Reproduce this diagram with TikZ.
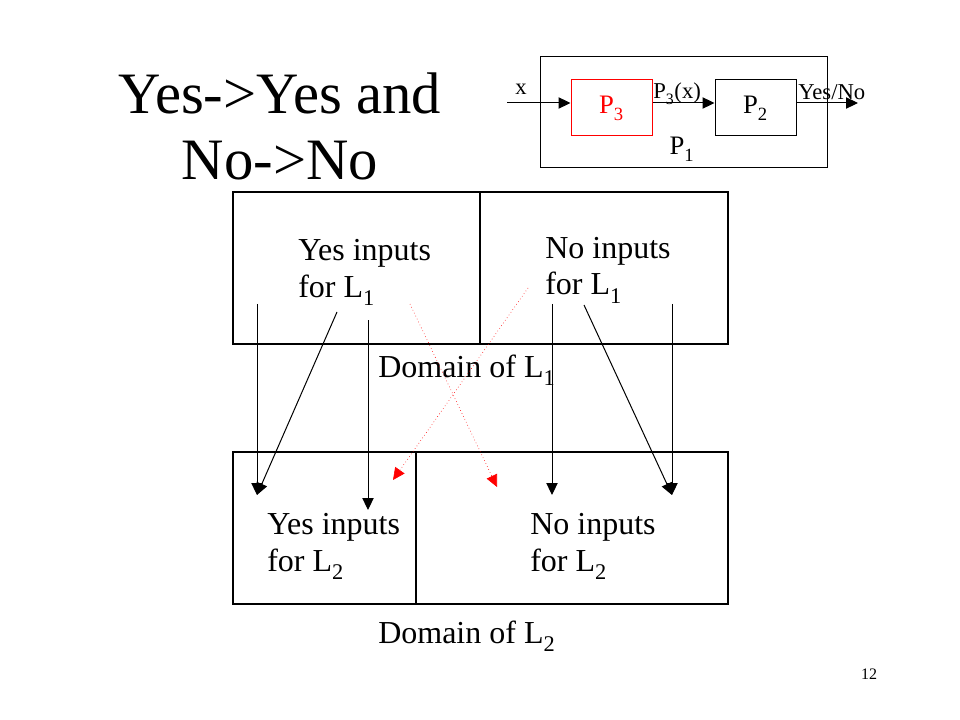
\documentclass[tikz,border=0pt]{standalone}
\usepackage{fontspec}
\setmainfont{Liberation Serif}
\usetikzlibrary{arrows.meta}
\newcommand\lsub[1]{\raisebox{-0.1em}{\textsubscript{#1}}}

\begin{document}
\begin{tikzpicture}[x=0.75pt,y=-0.75pt,
		every node/.style={inner sep=0pt},
		box/.style={line width=0.9pt},
		arr/.style={line width=0.75pt,-{Triangle[length=9pt,width=8.5pt]}},
		redarr/.style={red,line width=0.45pt,dotted,-{Triangle[length=9pt,width=8.5pt]}},
		lbl/.style={anchor=base west,align=left,font=\fontsize{24}{27.5}\selectfont},
		small/.style={font=\fontsize{17}{20}\selectfont},
		proc/.style={draw,line width=0.75pt,minimum width=60.75pt,minimum height=42pt,font=\fontsize{20}{24}\selectfont}]
		%%%%% START %%%%%
		\useasboundingbox (0,0) rectangle (960,720);
		
		% base of a two-line node = base of its last line
		\node[align=center,anchor=base,font=\fontsize{44}{50}\selectfont] (title) at (280,180) {Yes->Yes and\\No->No};
		
		% P1 = P2 after P3
		\node[draw,line width=0.75pt,minimum width=215.25pt,minimum height=83.25pt] (p1) at (683.5,112.5) {};
		\node[proc,draw=red,text=red] (p3) at (611.5,108) {P\lsub{3}};
		\node[proc] (p2) at (755.5,108) {P\lsub{2}};
		\node[anchor=base,font=\fontsize{20}{24}\selectfont] (p1lab) at (682,155) {P\lsub{1}};
		\coordinate (xin) at (507,103);
		\coordinate (yn) at (858,103);
		\draw[arr] (xin) -- (xin -| p3.west);
		\draw[arr] (p3.east |- xin) -- (p2.west |- xin);
		\draw[arr] (p2.east |- xin) -- (yn);
		\node[small,anchor=base] (xlab) at (521,95) {x};
		\node[small,anchor=base west] (p3x) at (653,99) {P\lsub{3}(x)};
		\node[small,anchor=base west] (ynlab) at (798,100) {Yes/No};
		
		% the two domains
		\draw[box] (233,192) rectangle (728,344);
		\draw[box] (480,192) -- (480,344);
		\draw[box] (233,452) rectangle (728,604);
		\draw[box] (416,452) -- (416,604);
		
		\node[lbl] (yes1) at (298,297) {Yes inputs\\for L\lsub{1}};
		\node[lbl] (no1) at (545,295) {No inputs\\for L\lsub{1}};
		\node[lbl] (dom1) at (378,377) {Domain of L\lsub{1}};
		\node[lbl] (yes2) at (267,571) {Yes inputs\\for L\lsub{2}};
		\node[lbl] (no2) at (530,571) {No inputs\\for L\lsub{2}};
		\node[lbl] (dom2) at (378,643) {Domain of L\lsub{2}};
		
		% maps
		\coordinate (ys1) at (257,304); \coordinate (ys2) at (337,312); \coordinate (ys3) at (368,320);
		\coordinate (ns1) at (552,304); \coordinate (ns2) at (584,305); \coordinate (ns3) at (672,304);
		\coordinate (ye1) at (257,495); \coordinate (ye2) at (368,510);
		\coordinate (ne1) at (552,495); \coordinate (ne2) at (672,495);
		\coordinate (rs1) at (410,304); \coordinate (re1) at (497,487);
		\coordinate (rs2) at (528,288); \coordinate (re2) at (393,480);
		\draw[arr] (ys1) -- (ye1);
		\draw[arr] (ys2) -- (ye1);
		\draw[arr] (ys3) -- (ye2);
		\draw[arr] (ns1) -- (ne1);
		\draw[arr] (ns2) -- (ne2);
		\draw[arr] (ns3) -- (ne2);
		\draw[redarr] (rs1) -- (re1);
		\draw[redarr] (rs2) -- (re2);
		
		\node[anchor=base,font=\fontsize{12}{14}\selectfont] (pg) at (869,679) {12};
		%%%%% END %%%%%
	\end{tikzpicture}
\end{document}
